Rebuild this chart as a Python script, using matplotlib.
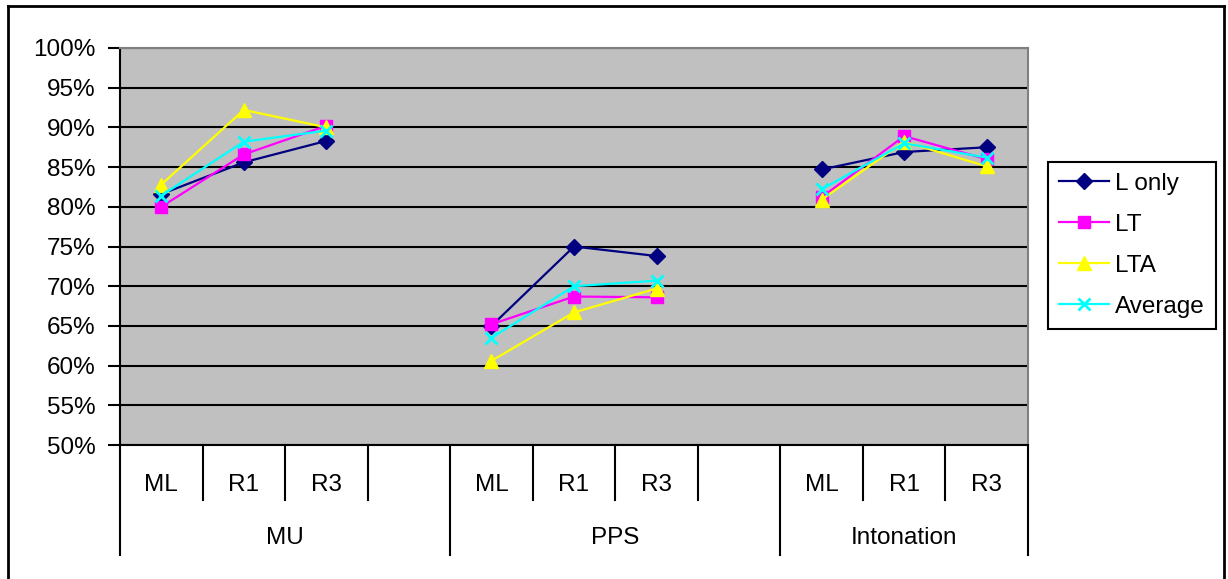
import numpy as np
import matplotlib
matplotlib.use("Agg")
import matplotlib.pyplot as plt
from matplotlib.lines import Line2D
from matplotlib.ticker import FuncFormatter

plt.rcParams['font.family'] = ['Liberation Sans', 'DejaVu Sans']

nan = np.nan
categories = ['ML', 'R1', 'R3', '', 'ML', 'R1', 'R3', '', 'ML', 'R1', 'R3']
groups = ['MU', 'PPS', 'Intonation']
group_spans = [(0, 3), (4, 7), (8, 10)]

l_only = [81.6, 85.6, 88.3, nan, 65.0, 75.0, 73.8, nan, 84.7, 86.9, 87.5]
lt = [80.0, 86.6, 90.2, nan, 65.2, 68.7, 68.6, nan, 81.2, 88.9, 86.0]
lta = [82.8, 92.2, 90.0, nan, 60.6, 66.7, 69.7, nan, 80.9, 88.2, 85.1]
average = [81.4, 88.2, 89.6, nan, 63.5, 70.0, 70.7, nan, 82.2, 88.0, 86.2]

series = [
    ('L only', l_only, '#000080', 'D', 8),
    ('LT', lt, '#FF00FF', 's', 8.5),
    ('LTA', lta, '#FFFF00', '^', 10),
    ('Average', average, '#00FFFF', 'x', 8),
]

fs = 17.5
fig = plt.figure(figsize=(12.28, 5.79), dpi=100)
ax = fig.add_axes([120 / 1228, 1 - 445 / 579, 908 / 1228, 397 / 579])
ax.set_facecolor('#C0C0C0')

x = np.arange(len(categories))
for name, vals, col, mk, ms in series:
    ax.plot(x, vals, color=col, marker=mk, markersize=ms, linewidth=1.6,
            markeredgewidth=2 if mk == 'x' else 1, label=name)

ax.set_xlim(-0.5, len(categories) - 0.5)
ax.set_ylim(50, 100)
ax.set_yticks(np.arange(50, 101, 5))
ax.yaxis.set_major_formatter(FuncFormatter(lambda v, p: '%d%%' % v))
ax.grid(axis='y', color='black', linewidth=1.5)
ax.set_axisbelow(True)
ax.tick_params(axis='y', labelsize=fs, length=9, width=1.5, direction='out', pad=8.5)
ax.set_xticks([])
for s in ['top', 'right']:
    ax.spines[s].set_color('#808080')
    ax.spines[s].set_linewidth(1.5)
ax.spines['left'].set_linewidth(1.5)
ax.spines['bottom'].set_linewidth(1.5)

# category axis drawn below the plot area
trans = ax.get_xaxis_transform()
long_edges = [-0.5, 3.5, 7.5, 10.5]
for edge in np.arange(-0.5, len(categories), 1.0):
    bottom = -0.277 if edge in long_edges else -0.1385
    ax.plot([edge, edge], [0, bottom], color='black', linewidth=1.5,
            transform=trans, clip_on=False)
for i, c in enumerate(categories):
    ax.text(i, -0.1, c, transform=trans, ha='center', va='center', fontsize=fs)
for g, (a, b) in zip(groups, group_spans):
    ax.text((a + b) / 2, -0.234, g, transform=trans,
            ha='center', va='center', fontsize=fs)

leg = ax.legend(loc='upper left', bbox_to_anchor=(1048 / 1228, 1 - 162 / 579),
                bbox_transform=fig.transFigure, borderaxespad=0, fontsize=fs,
                frameon=True, fancybox=False, edgecolor='black', framealpha=1,
                handlelength=2.05, labelspacing=0.78, handletextpad=0.25,
                borderpad=0.45)
leg.get_frame().set_linewidth(1.5)

# outer border
for xs, ys in [([8, 8], [579, 6]), ([8, 1224], [6, 6]), ([1224, 1224], [6, 579])]:
    fig.add_artist(Line2D([v / 1228 for v in xs], [1 - v / 579 for v in ys],
                          color='black', linewidth=2))

fig.savefig('out.png', dpi=100)
